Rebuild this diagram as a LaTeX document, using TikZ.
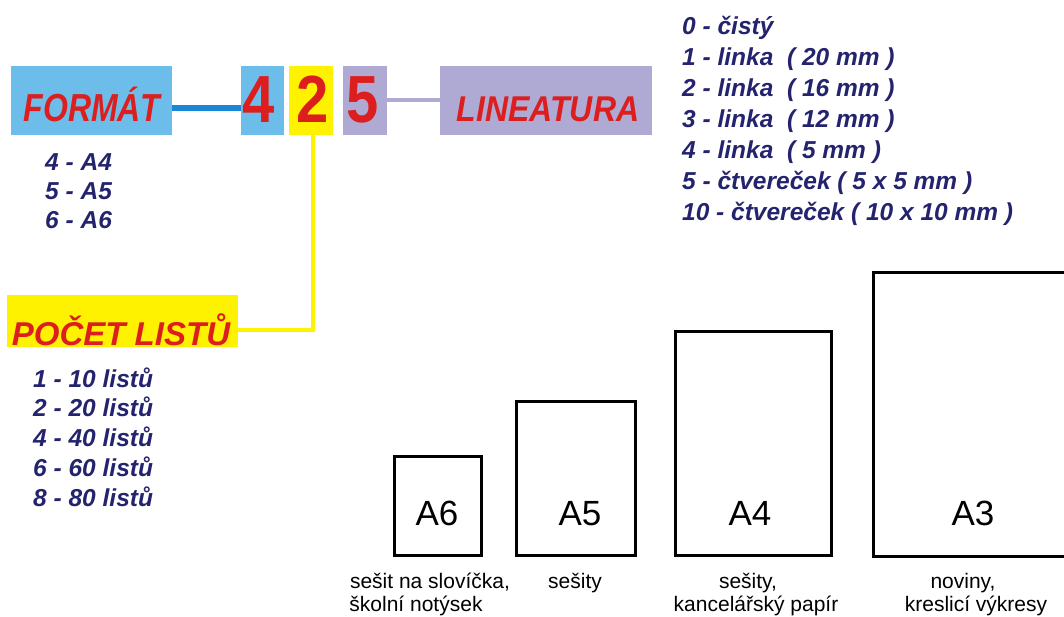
\documentclass[tikz,border=0pt]{standalone}
\usepackage{fontspec}
\setmainfont{Liberation Sans}
\definecolor{boxblue}{HTML}{6DBDEA}
\definecolor{lineblue}{HTML}{1A86D6}
\definecolor{boxyellow}{HTML}{FFF200}
\definecolor{boxlav}{HTML}{AEAAD3}
\definecolor{labred}{HTML}{DC1F1E}
\definecolor{navy}{HTML}{24236E}
\begin{document}
\begin{tikzpicture}[x=1pt,y=-1pt,
  colbox/.style={draw=none, inner sep=0pt, outer sep=0pt, anchor=north west},
  bigred/.style={text=labred, font=\fontsize{32}{32}\selectfont\bfseries\itshape, inner sep=0pt, anchor=base},
  digit/.style={text=labred, font=\fontsize{58}{58}\selectfont\bfseries, inner sep=0pt, anchor=base},
  listtxt/.style={text=navy, font=\fontsize{24.5}{24.5}\selectfont\bfseries\itshape, inner sep=0pt, anchor=base west},
  paper/.style={draw=black, line width=3pt, inner sep=0pt, outer sep=0pt, anchor=north west},
  paperlab/.style={font=\fontsize{35}{35}\selectfont, inner sep=0pt, anchor=base},
  caption/.style={font=\fontsize{21}{21}\selectfont, inner sep=0pt, anchor=base},
  conn/.style={line width=#1}
]
\useasboundingbox (0,0) rectangle (1064,617);
\clip (0,0) rectangle (1064,617);

% coloured boxes
\node[colbox, fill=boxblue, minimum width=161pt, minimum height=69pt] (formatbox) at (11,66) {};
\node[colbox, fill=boxblue, minimum width=43pt, minimum height=69pt] (box4) at (241,66) {};
\node[colbox, fill=boxyellow, minimum width=44pt, minimum height=69pt] (box2) at (289,66) {};
\node[colbox, fill=boxlav, minimum width=44pt, minimum height=69pt] (box5) at (343,66) {};
\node[colbox, fill=boxlav, minimum width=212pt, minimum height=69pt] (linbox) at (440,66) {};
\node[colbox, fill=boxyellow, minimum width=231pt, minimum height=52pt] (pocetbox) at (7,295) {};

% connectors
\draw[conn=6pt, lineblue] ([yshift=-7.5pt]formatbox.east) -- ([yshift=-7.5pt]box4.west);
\draw[conn=4pt, boxlav] (box5.east) -- (linbox.west);
\coordinate (pocetend) at ([yshift=-9pt]pocetbox.east);
\draw[conn=4pt, boxyellow] ([xshift=2pt]box2.south) -- ([xshift=2pt]box2.south |- pocetend) -- (pocetend);

% labels
\node[bigred] (formattxt) at (92,122) {\scalebox{1}[1.22]{FORMÁT}};
\node[bigred] (lintxt) at (548,122) {\scalebox{1}[1.12]{LINEATURA}};
\node[bigred, font=\fontsize{33}{33}\selectfont\bfseries\itshape] (pocettxt) at (121,345) {POČET LISTŮ};
\node[digit] (d4) at (259,123) {\scalebox{1}[1.15]{4}};
\node[digit] (d2) at (313,123) {\scalebox{1}[1.15]{2}};
\node[digit] (d5) at (363,123) {\scalebox{1}[1.15]{5}};

% lists
\node[listtxt] (f4) at (45,171) {4 - A4};
\node[listtxt] (f5) at (45,200) {5 - A5};
\node[listtxt] (f6) at (45,229) {6 - A6};

\node[listtxt] (p1) at (33,387) {1 - 10 listů};
\node[listtxt] (p2) at (33,416.5) {2 - 20 listů};
\node[listtxt] (p4) at (33,446) {4 - 40 listů};
\node[listtxt] (p6) at (33,476) {6 - 60 listů};
\node[listtxt] (p8) at (33,506) {8 - 80 listů};

\node[listtxt] (l0) at (682,35) {0 - čistý};
\node[listtxt] (l1) at (682,66) {1 - linka \ ( 20 mm )};
\node[listtxt] (l2) at (682,97) {2 - linka \ ( 16 mm )};
\node[listtxt] (l3) at (682,128) {3 - linka \ ( 12 mm )};
\node[listtxt] (l4) at (682,159) {4 - linka \ ( 5 mm )};
\node[listtxt] (l5) at (682,190) {5 - čtvereček ( 5 x 5 mm )};
\node[listtxt] (l10) at (682,221) {10 - čtvereček ( 10 x 10 mm )};

% paper sizes
\node[paper, minimum width=87pt, minimum height=99pt] (a6) at (394.5,456.5) {};
\node[paper, minimum width=119pt, minimum height=154pt] (a5) at (516.5,401.5) {};
\node[paper, minimum width=156pt, minimum height=224pt] (a4) at (675.5,331.5) {};
\node[paper, minimum width=206pt, minimum height=284pt] (a3) at (873.5,272.5) {};

\node[paperlab] (a6lab) at (437,525) {A6};
\node[paperlab] (a5lab) at (580,525) {A5};
\node[paperlab] (a4lab) at (750,525) {A4};
\node[paperlab] (a3lab) at (973,525) {A3};

\node[caption] (c6a) at (430,588) {sešit na slovíčka,};
\node[caption] (c6b) at (416,611) {školní notýsek};
\node[caption] (c5) at (575,588) {sešity};
\node[caption] (c4a) at (748,588) {sešity,};
\node[caption] (c4b) at (756,611) {kancelářský papír};
\node[caption] (c3a) at (963,588) {noviny,};
\node[caption] (c3b) at (976,611) {kreslicí výkresy};
\end{tikzpicture}
\end{document}
